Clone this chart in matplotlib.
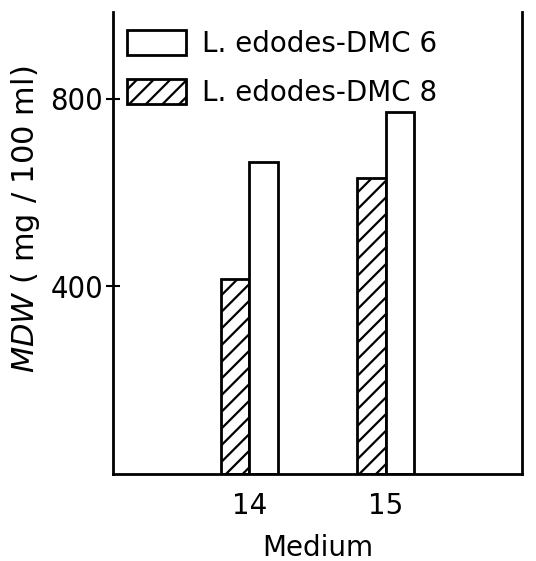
"""
MDW of two L. edodes strains on media 14 and 15.
"""
import numpy as np
from matplotlib import pyplot as plt

media = [14, 15]
dmc6 = [665, 772]
dmc8 = [415, 631]
series_labels = ["L. edodes-DMC 6", "L. edodes-DMC 8"]
ytick_vals = [400, 800]

plt.rcParams['hatch.linewidth'] = 1.6

fig = plt.figure(figsize=(5.36, 5.61), dpi=100)
ax = fig.add_axes([0.211, 0.155, 0.763, 0.824])

x = np.array(media, dtype=float)
bar_width = 0.21
b8 = ax.bar(x - bar_width / 2, dmc8, width=bar_width, color='white', edgecolor='black',
            linewidth=2, hatch='//')
b6 = ax.bar(x + bar_width / 2, dmc6, width=bar_width, color='white', edgecolor='black',
            linewidth=2)

ax.set_xlim(13, 16)
ax.set_ylim(0, 985)

ax.spines['top'].set_visible(False)
for side in ['left', 'right', 'bottom']:
    ax.spines[side].set_linewidth(2)

ax.set_xticks(x)
ax.set_xticklabels([str(m) for m in media], fontsize=20)
ax.tick_params(axis='x', length=0, pad=13)

ax.set_yticks(ytick_vals)
ax.set_yticklabels([str(v) for v in ytick_vals], fontsize=22, fontstretch='condensed')
ax.tick_params(axis='y', direction='inout', length=10, width=1.5, pad=2)

ax.set_xlabel('Medium', fontsize=20, labelpad=10)
ax.set_ylabel(r'$\mathit{MDW}$ ( mg / 100 ml)', fontsize=22)
ax.yaxis.set_label_coords(-0.175, 0.55)

ax.legend([b6[0], b8[0]], series_labels, loc='upper left', bbox_to_anchor=(0.035, 0.96),
          frameon=False, fontsize=20, handlelength=2.1, handleheight=1.0,
          handletextpad=0.6, labelspacing=0.75, borderpad=0, borderaxespad=0)

plt.savefig('out.png')
